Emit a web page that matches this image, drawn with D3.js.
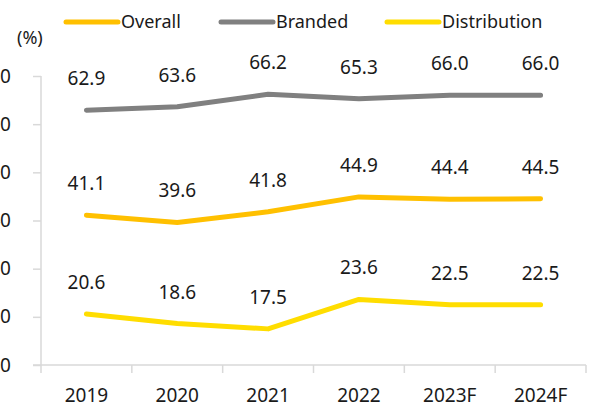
<!DOCTYPE html>
<html>
<head>
<meta charset="utf-8">
<script src="https://cdn.jsdelivr.net/npm/d3@7"></script>
<style>
  html, body { margin: 0; padding: 0; background: #fff; }
  svg text { font-family: "Noto Sans", sans-serif; fill: #1a1a1a; }
</style>
</head>
<body>
<div id="chart"></div>
<script>
// Data
const years = ['2019', '2020', '2021', '2022', '2023F', '2024F'];
const overall = [41.1, 39.6, 41.8, 44.9, 44.4, 44.5];
const branded = [62.9, 63.6, 66.2, 65.3, 66.0, 66.0];
const distribution = [20.6, 18.6, 17.5, 23.6, 22.5, 22.5];
const yTicks = [10, 20, 30, 40, 50, 60, 70];

const width = 591;
const height = 412;
const margin = {top: 76, right: 5, bottom: 47, left: 41};

const series = [
    {name: 'Overall', values: overall, color: '#FFC000'},
    {name: 'Branded', values: branded, color: '#808080'},
    {name: 'Distribution', values: distribution, color: '#FFDD00'}
];

const svg = d3.select('#chart')
    .append('svg')
    .attr('width', width)
    .attr('height', height);

// Scales
const x = d3.scaleBand()
    .domain(years)
    .range([margin.left, width - margin.right]);

const y = d3.scaleLinear()
    .domain([10, 70])
    .range([height - margin.bottom, margin.top]);

// Y axis
const yAxis = svg.append('g')
    .attr('transform', `translate(${margin.left},0)`)
    .call(d3.axisLeft(y).tickValues(yTicks).tickSize(8).tickPadding(22).tickFormat(d3.format('d')));
yAxis.selectAll('text').style('font-size', '19px');
yAxis.selectAll('line, path').attr('stroke', '#d9d9d9').attr('stroke-width', 1.5);
yAxis.select('.domain').attr('d', `M0,${y(70)}V${y(10)}`);

// X axis (labels at band centres, ticks at band edges)
const xAxis = svg.append('g')
    .attr('transform', `translate(0,${y(10)})`)
    .call(d3.axisBottom(x).tickSize(0).tickPadding(24));
xAxis.selectAll('text').style('font-size', '19px');
xAxis.select('.domain').attr('stroke', '#d9d9d9').attr('stroke-width', 1.5)
    .attr('d', `M${margin.left - 8},0H${x.range()[1]}`);

const edges = years.map(d => x(d)).concat([x.range()[1]]);
xAxis.selectAll('.edge')
    .data(edges)
    .join('line')
    .attr('class', 'edge')
    .attr('x1', d => d).attr('x2', d => d)
    .attr('y1', 0).attr('y2', 8)
    .attr('stroke', '#d9d9d9')
    .attr('stroke-width', 1.5);

// Lines
const line = d3.line()
    .x((d, i) => x(years[i]) + x.bandwidth() / 2)
    .y(d => y(d));

series.forEach(s => {
    svg.append('path')
        .datum(s.values)
        .attr('fill', 'none')
        .attr('stroke', s.color)
        .attr('stroke-width', 5)
        .attr('stroke-linecap', 'round')
        .attr('stroke-linejoin', 'round')
        .attr('d', line);

    svg.append('g')
        .selectAll('text')
        .data(s.values)
        .join('text')
        .attr('x', (d, i) => x(years[i]) + x.bandwidth() / 2)
        .attr('y', d => y(d) - 25)
        .attr('text-anchor', 'middle')
        .style('font-size', '19px')
        .text(d => d.toFixed(1));
});

// Unit label
svg.append('text')
    .attr('x', 17)
    .attr('y', 44)
    .style('font-size', '18px')
    .text('(%)');

// Legend
const legendX = [66, 221, 387];
const legend = svg.append('g')
    .selectAll('g')
    .data(series)
    .join('g')
    .attr('transform', (d, i) => `translate(${legendX[i]},22)`);

legend.append('line')
    .attr('x1', 0).attr('x2', 52)
    .attr('stroke', d => d.color)
    .attr('stroke-width', 5)
    .attr('stroke-linecap', 'round');

legend.append('text')
    .attr('x', 55)
    .attr('y', 6)
    .style('font-size', '18px')
    .text(d => d.name);
</script>
</body>
</html>
